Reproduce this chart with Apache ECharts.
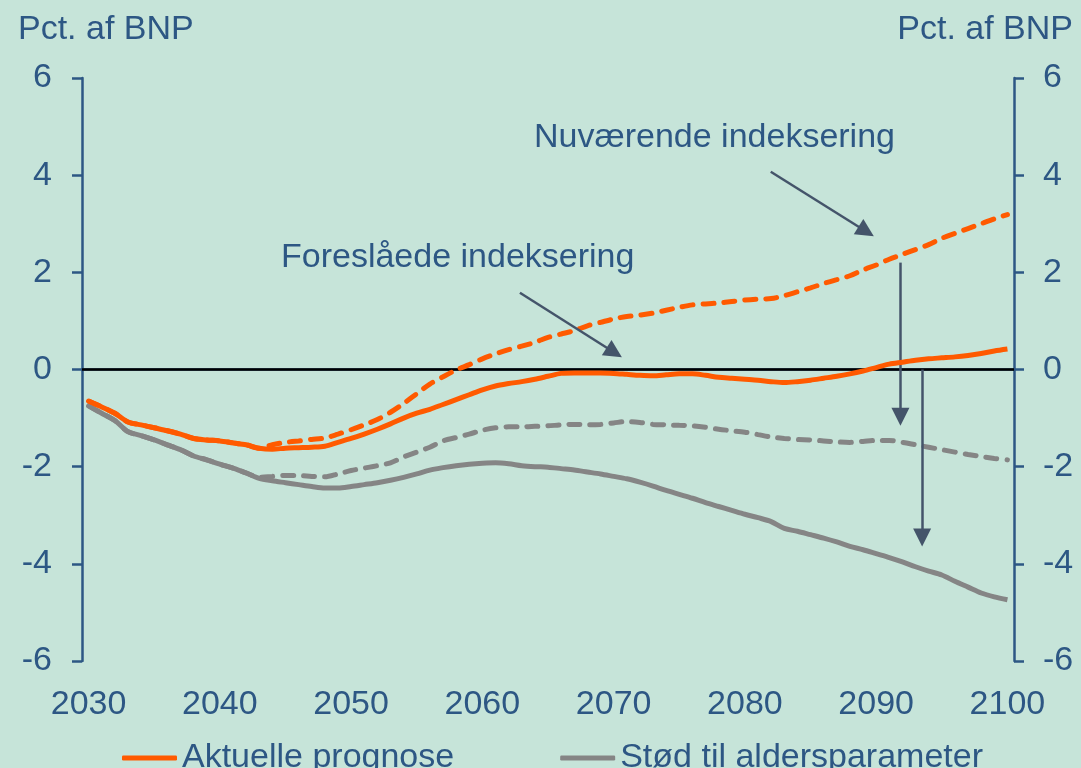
<!DOCTYPE html>
<html>
<head>
<meta charset="utf-8">
<script src="https://cdn.jsdelivr.net/npm/echarts@6/dist/echarts.min.js"></script>
<style>
  html, body { margin: 0; padding: 0; background: #c6e4d9; }
  #chart { width: 1081px; height: 768px; }
</style>
</head>
<body>
<div id="chart"></div>
<script>
// years 2030-2100
const years = [];
for (let y = 2030; y <= 2100; y++) years.push(String(y));

// Aktuelle prognose, foreslåede indeksering (orange solid)
const aktuelleForeslaaet = [
  -0.65, -0.77, -0.90, -1.08, -1.14, -1.20, -1.26, -1.33, -1.42, -1.45,
  -1.47, -1.51, -1.55, -1.62, -1.64, -1.62, -1.61, -1.60, -1.58, -1.50,
  -1.42, -1.33, -1.23, -1.12, -1.00, -0.90, -0.82, -0.72, -0.62, -0.52,
  -0.42, -0.34, -0.29, -0.25, -0.20, -0.14, -0.08, -0.07, -0.07, -0.07,
  -0.08, -0.10, -0.12, -0.13, -0.11, -0.09, -0.09, -0.12, -0.16, -0.18,
  -0.20, -0.22, -0.25, -0.27, -0.25, -0.22, -0.18, -0.14, -0.09, -0.03,
  0.04, 0.11, 0.15, 0.19, 0.22, 0.24, 0.26, 0.29, 0.33, 0.38,
  0.42
];

// Aktuelle prognose, nuværende indeksering (orange dashed)
const aktuelleNuvaerende = [
  -0.65, -0.77, -0.90, -1.08, -1.14, -1.20, -1.26, -1.33, -1.42, -1.45,
  -1.47, -1.51, -1.55, -1.62, -1.55, -1.50, -1.47, -1.44, -1.41, -1.33,
  -1.24, -1.14, -1.03, -0.88, -0.70, -0.50, -0.30, -0.15, -0.01, 0.10,
  0.22, 0.32, 0.41, 0.48, 0.56, 0.66, 0.73, 0.80, 0.90, 0.97,
  1.04, 1.09, 1.12, 1.16, 1.22, 1.28, 1.33, 1.35, 1.37, 1.40,
  1.43, 1.45, 1.46, 1.52, 1.60, 1.68, 1.77, 1.85, 1.93, 2.05,
  2.15, 2.27, 2.37, 2.47, 2.57, 2.70, 2.80, 2.90, 3.00, 3.10,
  3.19
];

// Stød til aldersparameter, foreslåede indeksering (grey solid)
const stoedForeslaaet = [
  -0.75, -0.90, -1.05, -1.28, -1.36, -1.45, -1.55, -1.65, -1.78, -1.86,
  -1.95, -2.03, -2.13, -2.24, -2.29, -2.33, -2.37, -2.41, -2.44, -2.44,
  -2.41, -2.37, -2.33, -2.28, -2.22, -2.15, -2.07, -2.02, -1.98, -1.95,
  -1.93, -1.92, -1.94, -1.98, -2.00, -2.01, -2.04, -2.07, -2.11, -2.15,
  -2.20, -2.25, -2.32, -2.40, -2.49, -2.57, -2.65, -2.74, -2.82, -2.90,
  -2.98, -3.05, -3.13, -3.27, -3.33, -3.40, -3.47, -3.55, -3.64, -3.71,
  -3.79, -3.87, -3.96, -4.06, -4.15, -4.23, -4.36, -4.48, -4.60, -4.68,
  -4.74
];

// Stød til aldersparameter, nuværende indeksering (grey dashed)
const stoedNuvaerende = [
  -0.75, -0.90, -1.05, -1.28, -1.36, -1.45, -1.55, -1.65, -1.78, -1.86,
  -1.95, -2.03, -2.13, -2.22, -2.20, -2.18, -2.18, -2.20, -2.21, -2.15,
  -2.08, -2.03, -1.98, -1.92, -1.80, -1.70, -1.60, -1.47, -1.40, -1.33,
  -1.25, -1.20, -1.18, -1.18, -1.17, -1.16, -1.14, -1.13, -1.14, -1.13,
  -1.10, -1.07, -1.09, -1.13, -1.14, -1.15, -1.16, -1.19, -1.23, -1.26,
  -1.29, -1.34, -1.39, -1.42, -1.44, -1.45, -1.47, -1.49, -1.50, -1.48,
  -1.46, -1.46, -1.50, -1.55, -1.60, -1.65, -1.70, -1.75, -1.79, -1.83,
  -1.86
];

const yTicks = [-6, -4, -2, 0, 2, 4, 6];
const legendNames = ['Aktuelle prognose', 'Stød til aldersparameter'];
const axisTitle = 'Pct. af BNP';
const noteNuvaerende = 'Nuværende indeksering';
const noteForeslaaet = 'Foreslåede indeksering';

// annotation arrows in (year, value) units: [from, to]
const arrows = [
  [[2081.97, 4.07], [2089.24, 2.84]],
  [[2062.86, 1.58], [2070.05, 0.35]],
  [[2091.85, 2.20], [2091.85, -0.97]],
  [[2093.5, 0.00], [2093.5, -3.46]]
];

const textColor = '#2d5784';
const arrowColor = '#44546a';
const orange = '#ff5a00';
const grey = '#858585';
const font = 'Liberation Sans, Arial, sans-serif';

const chart = echarts.init(document.getElementById('chart'));

const option = {
  animation: false,
  backgroundColor: '#c6e4d9',
  textStyle: { fontFamily: font },
  grid: { left: 82, right: 67, top: 78, bottom: 107, containLabel: false },
  legend: {
    data: [
      { name: legendNames[0], icon: 'roundRect', itemStyle: { color: orange } },
      { name: legendNames[1], icon: 'roundRect', itemStyle: { color: grey } }
    ],
    left: 117,
    top: 736,
    itemWidth: 55,
    itemHeight: 5,
    itemGap: 106,
    textStyle: { color: textColor, fontSize: 34, fontFamily: font }
  },
  xAxis: [
    {
      type: 'category',
      data: years,
      boundaryGap: true,
      axisLine: { lineStyle: { color: textColor, width: 2.5 } },
      axisTick: { interval: 4, length: 10, lineStyle: { color: textColor, width: 2.5 } },
      axisLabel: { interval: 9, color: textColor, fontSize: 34, margin: 27, fontFamily: font },
      splitLine: { show: false }
    },
    {
      type: 'value',
      min: 2029.5,
      max: 2100.5,
      show: false
    }
  ],
  yAxis: [
    {
      type: 'value',
      position: 'left',
      min: yTicks[0],
      max: yTicks[yTicks.length - 1],
      interval: 2,
      axisLine: { show: true, lineStyle: { color: textColor, width: 2.5 } },
      axisTick: { show: true, length: 10, lineStyle: { color: textColor, width: 2.5 } },
      axisLabel: { color: textColor, fontSize: 34, margin: 30, fontFamily: font },
      splitLine: { show: false }
    },
    {
      type: 'value',
      position: 'right',
      min: yTicks[0],
      max: yTicks[yTicks.length - 1],
      interval: 2,
      axisLine: { show: true, lineStyle: { color: textColor, width: 2.5 } },
      axisTick: { show: true, length: 10, lineStyle: { color: textColor, width: 2.5 } },
      axisLabel: { color: textColor, fontSize: 34, margin: 29, fontFamily: font },
      splitLine: { show: false }
    }
  ],
  graphic: [
    { type: 'text', left: 18, top: 13, style: { text: axisTitle, font: '34px ' + font, fill: textColor } },
    { type: 'text', right: 8, top: 13, style: { text: axisTitle, font: '34px ' + font, fill: textColor } },
    { type: 'text', left: 534, top: 121, style: { text: noteNuvaerende, font: '34px ' + font, fill: textColor } },
    { type: 'text', left: 281, top: 241, style: { text: noteForeslaaet, font: '34px ' + font, fill: textColor } }
  ],
  series: [
    {
      name: 'Stød til aldersparameter (nuværende)',
      type: 'line',
      data: stoedNuvaerende,
      symbol: 'none',
      smooth: 0.3,
      lineStyle: { color: grey, width: 5, type: [11, 10], cap: 'round' },
      z: 2
    },
    {
      name: legendNames[1],
      type: 'line',
      data: stoedForeslaaet,
      symbol: 'none',
      smooth: 0.3,
      itemStyle: { color: grey },
      lineStyle: { color: grey, width: 5 },
      z: 3
    },
    {
      name: 'Aktuelle prognose (nuværende)',
      type: 'line',
      data: aktuelleNuvaerende,
      symbol: 'none',
      smooth: 0.3,
      lineStyle: { color: orange, width: 5, type: [11, 10], cap: 'round' },
      z: 4
    },
    {
      name: legendNames[0],
      type: 'line',
      data: aktuelleForeslaaet,
      symbol: 'none',
      smooth: 0.3,
      itemStyle: { color: orange },
      lineStyle: { color: orange, width: 5 },
      z: 5,
      markLine: {
        silent: true,
        symbol: 'none',
        label: { show: false },
        lineStyle: { color: '#000', width: 2.5, type: 'solid' },
        data: [{ yAxis: 0 }],
        z: 1
      }
    },
    {
      name: 'pile',
      type: 'line',
      xAxisIndex: 1,
      yAxisIndex: 0,
      data: [],
      z: 6,
      markLine: {
        silent: true,
        label: { show: false },
        symbolSize: [18, 18],
        lineStyle: { color: arrowColor, width: 2.5, type: 'solid' },
        data: arrows.map(a => [
          { coord: a[0], symbol: 'none' },
          { coord: a[1], symbol: 'triangle' }
        ])
      }
    }
  ]
};

chart.setOption(option);
</script>
</body>
</html>
